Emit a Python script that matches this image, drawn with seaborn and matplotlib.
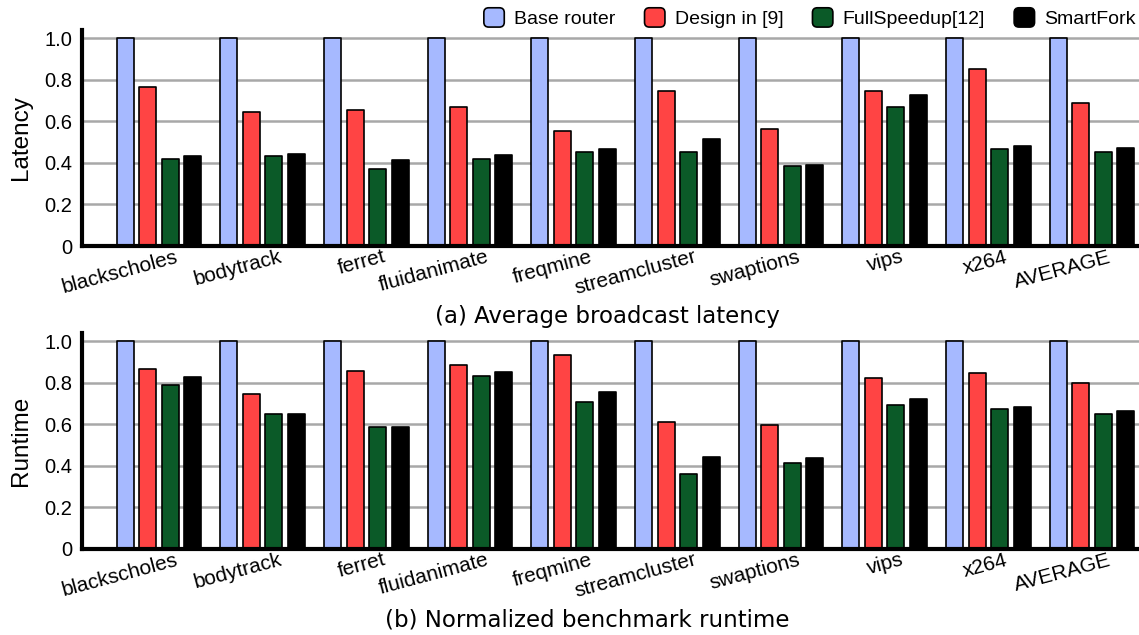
import matplotlib
matplotlib.use("Agg")
import matplotlib.pyplot as plt
import matplotlib.transforms as mtransforms
from matplotlib.patches import Patch, FancyBboxPatch
from matplotlib.legend_handler import HandlerPatch
import pandas as pd
import seaborn as sns

benchmarks = ["blackscholes", "bodytrack", "ferret", "fluidanimate", "freqmine",
              "streamcluster", "swaptions", "vips", "x264", "AVERAGE"]
designs = ["Base router", "Design in [9]", "FullSpeedup[12]", "SmartFork"]
colors = ["#A6B9FF", "#FF4444", "#0B5A28", "#000000"]

latency_base = [1.0, 1.0, 1.0, 1.0, 1.0, 1.0, 1.0, 1.0, 1.0, 1.0]
latency_design9 = [0.767, 0.647, 0.657, 0.671, 0.552, 0.745, 0.563, 0.746, 0.851, 0.687]
latency_fullspeedup = [0.417, 0.435, 0.369, 0.417, 0.451, 0.451, 0.385, 0.668, 0.469, 0.451]
latency_smartfork = [0.433, 0.443, 0.416, 0.437, 0.467, 0.514, 0.392, 0.729, 0.483, 0.474]

runtime_base = [1.0, 1.0, 1.0, 1.0, 1.0, 1.0, 1.0, 1.0, 1.0, 1.0]
runtime_design9 = [0.867, 0.744, 0.859, 0.886, 0.936, 0.611, 0.595, 0.822, 0.848, 0.798]
runtime_fullspeedup = [0.792, 0.651, 0.586, 0.834, 0.709, 0.360, 0.416, 0.691, 0.675, 0.648]
runtime_smartfork = [0.829, 0.651, 0.586, 0.850, 0.755, 0.442, 0.437, 0.723, 0.683, 0.664]

ytick_values = [0, 0.2, 0.4, 0.6, 0.8, 1.0]
ytick_labels = ["0", "0.2", "0.4", "0.6", "0.8", "1.0"]


def long_table(series):
    rows = []
    for name, vals in zip(designs, series):
        for b, v in zip(benchmarks, vals):
            rows.append({"benchmark": b, "design": name, "value": v})
    return pd.DataFrame(rows)


latency_df = long_table([latency_base, latency_design9, latency_fullspeedup, latency_smartfork])
runtime_df = long_table([runtime_base, runtime_design9, runtime_fullspeedup, runtime_smartfork])

sns.set_style("white")
plt.rcParams["font.family"] = ["Liberation Sans", "DejaVu Sans"]
plt.rcParams.update({"text.color": "black", "axes.labelcolor": "black",
                     "xtick.color": "black", "ytick.color": "black"})

W, H = 1139, 635
fig = plt.figure(figsize=(W / 100, H / 100), dpi=100)

left = 82 / W
width = (W - 82) / W
ax_h = 216 / H
ax_top = fig.add_axes([left, 1 - 246 / H, width, ax_h])
ax_bot = fig.add_axes([left, 1 - 549 / H, width, ax_h])

label_shift = mtransforms.ScaledTranslation(16 / 100, 0, fig.dpi_scale_trans)


def draw_panel(ax, df, ylabel):
    ax.set_axisbelow(True)
    for y in ytick_values[1:]:
        ax.axhline(y, color="#a8a8a8", lw=1.8, zorder=0)
    sns.barplot(data=df, x="benchmark", y="value", hue="design", order=benchmarks,
                hue_order=designs, palette=colors, width=0.868, gap=0.245,
                edgecolor="black", linewidth=1.2, errorbar=None, legend=False,
                saturation=1, ax=ax, zorder=2)
    for p in ax.patches:
        p.set_joinstyle("round")
    ax.set_xlim(-0.743, 9.453)
    ax.set_ylim(0, 1.04)
    ax.set_yticks(ytick_values)
    ax.set_yticklabels(ytick_labels, fontsize=14.5)
    ax.set_ylabel(ylabel, fontsize=17.5, labelpad=9)
    ax.set_xlabel("")
    ax.tick_params(axis="y", direction="in", length=17, width=3, pad=7, color="black")
    ax.tick_params(axis="x", length=0, pad=1)
    for lab in ax.get_xticklabels():
        lab.set_rotation(15)
        lab.set_ha("right")
        lab.set_va("top")
        lab.set_rotation_mode("anchor")
        lab.set_fontsize(15)
        lab.set_transform(lab.get_transform() + label_shift)
    for side in ("top", "right"):
        ax.spines[side].set_visible(False)
    for side in ("left", "bottom"):
        ax.spines[side].set_linewidth(3)
        ax.spines[side].set_color("black")


draw_panel(ax_top, latency_df, "Latency")
draw_panel(ax_bot, runtime_df, "Runtime")

fig.text(0.533, 1 - 316 / H, "(a) Average broadcast latency", ha="center", va="center",
         fontsize=16.5, family="DejaVu Sans")
fig.text(0.516, 1 - 620 / H, "(b) Normalized benchmark runtime", ha="center", va="center",
         fontsize=16.5, family="DejaVu Sans")


class RoundedBoxHandler(HandlerPatch):
    def create_artists(self, legend, orig_handle, xdescent, ydescent, width, height,
                       fontsize, trans):
        box = FancyBboxPatch((-xdescent, -ydescent), width, height,
                             boxstyle="round,pad=0,rounding_size=3.5",
                             facecolor=orig_handle.get_facecolor(),
                             edgecolor="black", linewidth=1.2, transform=trans)
        return [box]


handles = [Patch(facecolor=c, edgecolor="black", linewidth=1.2) for c in colors]
fig.legend(handles, designs, loc="upper right", bbox_to_anchor=(1.004, 1.0), ncol=4,
           frameon=False, fontsize=14, handlelength=1.05, handleheight=1.15,
           handletextpad=0.5, columnspacing=1.5, borderaxespad=0.2, borderpad=0.2,
           handler_map={Patch: RoundedBoxHandler()})

fig.savefig("out.png", dpi=100)
